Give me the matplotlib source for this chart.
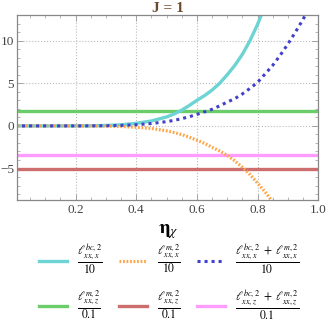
import matplotlib
matplotlib.use("Agg")
import matplotlib.pyplot as plt
from matplotlib.lines import Line2D
from matplotlib.ticker import MultipleLocator

plt.rcParams['font.family'] = ['Liberation Serif', 'DejaVu Serif']
plt.rcParams['mathtext.fontset'] = 'stix'

# data (values already divided as in the legend)
eta = [0.0, 0.05, 0.1, 0.15, 0.2, 0.25, 0.3, 0.35, 0.4, 0.45, 0.5, 0.525, 0.55,
       0.575, 0.6, 0.625, 0.65, 0.675, 0.7, 0.725, 0.75, 0.775, 0.8, 0.825,
       0.85, 0.875, 0.9, 0.925, 0.95, 0.975, 1.0]
l_bc_x = [0, 0, 0, 0, 0.005, 0.015, 0.05, 0.13, 0.3, 0.58, 1.05, 1.4, 1.85,
          2.4, 3.0, 3.55, 4.2, 5.0, 6.0, 7.1, 8.4, 10.0, 11.9, 14.1,
          16.7, 19.8, 23.4, 27.7, 32.8, 38.8, 46.0]
l_m_x = [0, 0, 0, 0, -0.005, -0.01, -0.03, -0.07, -0.16, -0.3, -0.58, -0.78, -1.02,
         -1.32, -1.68, -2.05, -2.5, -2.95, -3.45, -4.1, -4.85, -5.7, -6.7, -7.75,
         -8.9, -10.2, -11.6, -13.2, -15.0, -17.0, -19.2]
l_sum_x = [0, 0, 0, 0, 0.0, 0.005, 0.02, 0.06, 0.14, 0.28, 0.5, 0.65, 0.85,
           1.08, 1.35, 1.65, 1.95, 2.35, 2.8, 3.2, 3.75, 4.4, 5.1, 6.1,
           7.1, 8.3, 9.6, 11.0, 12.5, 14.1, 15.8]
l_m_z = 1.72
l_sum_z = -3.37
l_bc_z = -5.05

labels = [
    r'$\frac{\ell^{bc,2}_{xx,x}}{10}$',
    r'$\frac{\ell^{m,2}_{xx,x}}{10}$',
    r'$\frac{\ell^{bc,2}_{xx,x}\ +\ \ell^{m,2}_{xx,x}}{10}$',
    r'$\frac{\ell^{m,2}_{xx,z}}{0.1}$',
    r'$\frac{\ell^{m,2}_{xx,z}}{0.1}$',
    r'$\frac{\ell^{bc,2}_{xx,z}\ +\ \ell^{m,2}_{xx,z}}{0.1}$',
]

c_cyan = '#6dd3d3'
c_orange = '#ffa445'
c_blue = '#4040cc'
c_green = '#6acd6a'
c_red = '#cc6e6e'
c_pink = '#ff9cff'

fig = plt.figure(figsize=(3.29, 3.29), dpi=100)
ax = fig.add_axes([0.053, 0.392, 0.914, 0.562])

ax.axhline(l_m_z, color=c_green, lw=2.4)
ax.axhline(l_bc_z, color=c_red, lw=2.4)
ax.axhline(l_sum_z, color=c_pink, lw=2.4)
ax.plot(eta, l_bc_x, color=c_cyan, lw=2.4)
ax.plot(eta, l_m_x, color=c_orange, lw=2.3, ls=(0, (0.55, 0.55)))
ax.plot(eta, l_sum_x, color=c_blue, lw=2.2, ls=(0, (1.0, 1.3)))

ax.set_xlim(0.008, 1.0)
ax.set_ylim(-8.7, 13.0)
ax.xaxis.set_minor_locator(MultipleLocator(0.05))
ax.yaxis.set_minor_locator(MultipleLocator(1))
ax.set_xticks([0.2, 0.4, 0.6, 0.8, 1.0])
ax.set_xticklabels(['0.2', '0.4', '0.6', '0.8', '1.0'])
ax.set_yticks([-5, 0, 5, 10])
ax.set_yticklabels(['\u22125', '0', '5', '10'])
ax.tick_params(which='both', direction='in', top=True, right=True,
               color='#999999', labelsize=9.5, labelcolor='#444444')
ax.tick_params(which='major', length=4, width=0.6, pad=2.5)
ax.tick_params(which='minor', length=2, width=0.5)
ax.grid(True, which='major', color='#bbbbbb', ls=':', lw=0.8)
for s in ax.spines.values():
    s.set_color('#888888')
    s.set_linewidth(0.9)

ax.set_title('J = 1', color='#6b4a2c', fontsize=11, fontweight='bold', pad=2)
ax.set_xlabel(r'$\mathbf{\eta}_{\chi}$', fontsize=14, labelpad=5)

handles = [
    Line2D([], [], color=c_cyan, lw=2.4),
    Line2D([], [], color=c_green, lw=2.4),
    Line2D([], [], color=c_orange, lw=2.3, ls=(0, (0.55, 0.55))),
    Line2D([], [], color=c_red, lw=2.4),
    Line2D([], [], color=c_blue, lw=2.2, ls=(0, (1.0, 1.3))),
    Line2D([], [], color=c_pink, lw=2.4),
]
leg_labels = [labels[0], labels[3], labels[1], labels[4], labels[2], labels[5]]
fig.legend(handles, leg_labels, ncol=3, loc='upper center',
           bbox_to_anchor=(0.515, 0.262), frameon=False, fontsize=12,
           handlelength=1.7, handletextpad=0.6, columnspacing=0.95,
           labelspacing=0.75, borderaxespad=0, borderpad=0)

fig.savefig('out.png', dpi=100)
